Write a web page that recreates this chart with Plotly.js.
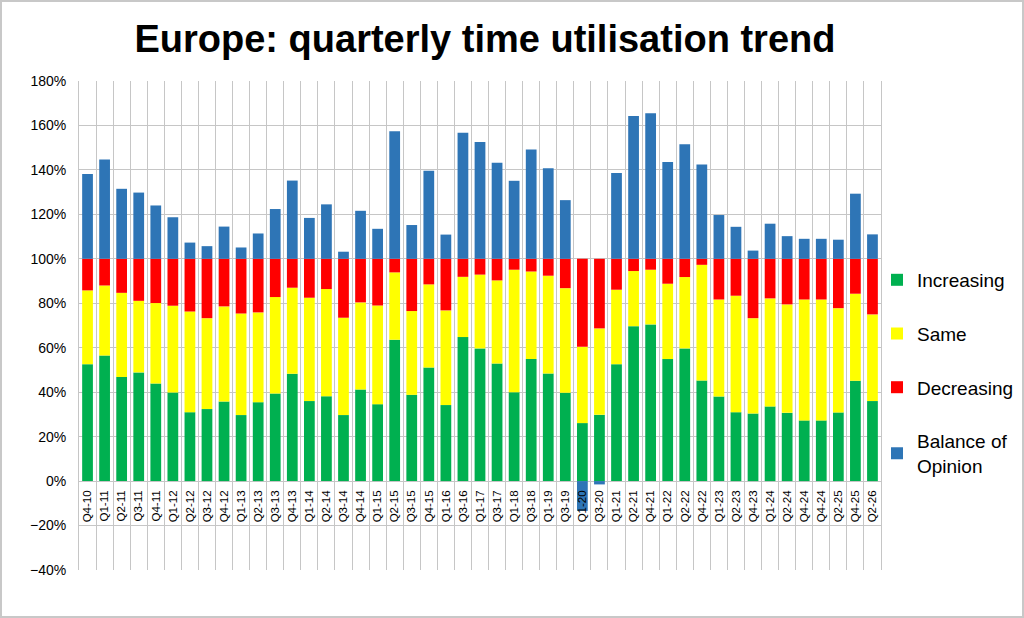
<!DOCTYPE html>
<html>
<head>
<meta charset="utf-8">
<script src="https://cdn.plot.ly/plotly-3.0.1.min.js"></script>
<style>
    html, body { margin: 0; padding: 0; background: #fff; }
    #wrap { position: relative; width: 1024px; height: 618px; }
    #frame { position: absolute; left: 0; top: 0; right: 0; bottom: 0; border: 2px solid #c8c8c8; box-sizing: border-box; pointer-events: none; }
</style>
</head>
<body>
<div id="wrap">
    <div id="chart" style="width:1024px;height:618px;"></div>
    <div id="frame"></div>
</div>
<script>
// 季度标签（原图中 Q4-24 出现两次）
const quarters = ['Q4-10', 'Q1-11', 'Q2-11', 'Q3-11', 'Q4-11', 'Q1-12', 'Q2-12', 'Q3-12', 'Q4-12', 'Q1-13',
    'Q2-13', 'Q3-13', 'Q4-13', 'Q1-14', 'Q2-14', 'Q3-14', 'Q4-14', 'Q1-15', 'Q2-15', 'Q3-15',
    'Q4-15', 'Q1-16', 'Q3-16', 'Q1-17', 'Q3-17', 'Q1-18', 'Q3-18', 'Q1-19', 'Q3-19', 'Q1-20',
    'Q3-20', 'Q1-21', 'Q2-21', 'Q4-21', 'Q1-22', 'Q2-22', 'Q4-22', 'Q1-23', 'Q2-23', 'Q4-23',
    'Q1-24', 'Q2-24', 'Q4-24', 'Q4-24', 'Q2-25', 'Q4-25', 'Q2-26'];

// 各系列数值 (%)
const increasing = [52.6, 56.5, 46.8, 48.9, 43.9, 39.9, 31.0, 32.4, 35.8, 29.7,
    35.5, 39.4, 48.3, 36.0, 38.2, 29.7, 41.2, 34.6, 63.6, 38.8,
    51.1, 34.2, 64.8, 59.7, 52.9, 40.0, 54.9, 48.4, 39.7, 26.1,
    29.8, 52.6, 69.7, 70.5, 54.9, 59.7, 45.3, 38.1, 31.0, 30.4,
    33.6, 30.7, 27.3, 27.3, 30.9, 45.1, 36.0];
const same = [33.2, 31.5, 37.9, 32.2, 36.2, 39.0, 45.3, 40.9, 42.8, 45.7,
    40.4, 43.4, 38.7, 46.5, 48.2, 43.8, 39.2, 44.4, 30.3, 37.7,
    37.4, 42.6, 27.1, 33.2, 37.4, 55.1, 39.4, 44.0, 47.1, 34.3,
    38.9, 33.5, 24.8, 24.6, 33.9, 32.1, 52.0, 43.6, 52.4, 42.9,
    48.6, 48.8, 54.4, 54.4, 46.9, 39.2, 39.0];
const decreasing = [14.2, 12.0, 15.3, 18.9, 19.9, 21.1, 23.7, 26.7, 21.4, 24.6,
    24.1, 17.2, 13.0, 17.5, 13.6, 26.5, 19.6, 21.0, 6.1, 23.5,
    11.5, 23.2, 8.1, 7.1, 9.7, 4.9, 5.7, 7.6, 13.2, 39.6,
    31.3, 13.9, 5.5, 4.9, 11.2, 8.2, 2.7, 18.3, 16.6, 26.7,
    17.8, 20.5, 18.3, 18.3, 22.2, 15.7, 25.0];
const balance = [38.2, 44.7, 31.5, 29.8, 24.0, 18.7, 7.3, 5.7, 14.5, 5.1,
    11.4, 22.4, 35.2, 18.4, 24.5, 3.2, 21.6, 13.5, 57.4, 15.2,
    39.6, 10.9, 56.7, 52.6, 43.2, 35.1, 49.2, 40.7, 26.4, -13.4,
    -1.5, 38.6, 64.2, 65.5, 43.6, 51.5, 42.4, 19.7, 14.4, 3.7,
    15.8, 10.2, 9.0, 9.0, 8.6, 29.3, 11.0];

const seriesNames = ['Increasing', 'Same', 'Decreasing', 'Balance of<br>Opinion'];
const seriesColors = ['#00B050', '#FFFF00', '#FF0000', '#2E75B6'];

const FONT = '"Liberation Sans", Arial, sans-serif';
const GRID = '#c6c6c6';

// 用序号作为 x，标签另外给出，避免重复的类别被合并
const xIndex = quarters.map((q, i) => i);

const traces = [increasing, same, decreasing, balance].map((vals, k) => ({
    type: 'bar',
    x: xIndex,
    y: vals,
    name: seriesNames[k],
    legendgroup: 'g' + k,
    marker: {
        color: seriesColors[k],
        line: { width: 0 }
    },
    hoverinfo: 'skip'
}));

const layout = {
    width: 1024,
    height: 618,
    barmode: 'relative',
    bargap: 0.37,
    paper_bgcolor: '#ffffff',
    plot_bgcolor: '#ffffff',
    font: { family: FONT, color: '#000000' },
    margin: { l: 79, r: 143, t: 81, b: 48, autoexpand: false },
    title: {
        text: 'Europe: quarterly time utilisation trend',
        font: { family: FONT, size: 38, weight: 'bold', color: '#000000' },
        xref: 'container',
        x: 0.4736,
        xanchor: 'center',
        yref: 'container',
        y: 1 - 39 / 618,
        yanchor: 'middle'
    },
    xaxis: {
        type: 'linear',
        range: [-0.5, quarters.length - 0.5],
        tickmode: 'array',
        tickvals: xIndex,
        ticktext: quarters,
        tickangle: -90,
        tickfont: { family: FONT, size: 11.5, color: '#000000' },
        ticks: '',
        ticklabelstandoff: 6,
        showgrid: false,
        zeroline: false,
        showline: false,
        anchor: 'free',
        position: 40 / 220,
        fixedrange: true,
        minor: {
            tickmode: 'linear',
            tick0: -0.5,
            dtick: 1,
            showgrid: true,
            gridcolor: GRID,
            gridwidth: 1,
            ticks: ''
        }
    },
    yaxis: {
        range: [-40, 180],
        tickmode: 'linear',
        tick0: -40,
        dtick: 20,
        ticksuffix: '%',
        tickfont: { family: FONT, size: 14, color: '#000000' },
        ticks: '',
        ticklabelstandoff: 9,
        showgrid: true,
        gridcolor: GRID,
        gridwidth: 1,
        zeroline: false,
        showline: true,
        linecolor: GRID,
        linewidth: 1,
        mirror: true,
        fixedrange: true
    },
    showlegend: true,
    legend: {
        x: 0.995,
        xanchor: 'left',
        y: 0.632,
        yanchor: 'top',
        traceorder: 'grouped',
        tracegroupgap: 26,
        font: { family: FONT, size: 19, color: '#000000' },
        bgcolor: 'rgba(0,0,0,0)',
        itemclick: false,
        itemdoubleclick: false
    }
};

Plotly.newPlot('chart', traces, layout, { displayModeBar: false, responsive: false, staticPlot: true });
</script>
</body>
</html>
